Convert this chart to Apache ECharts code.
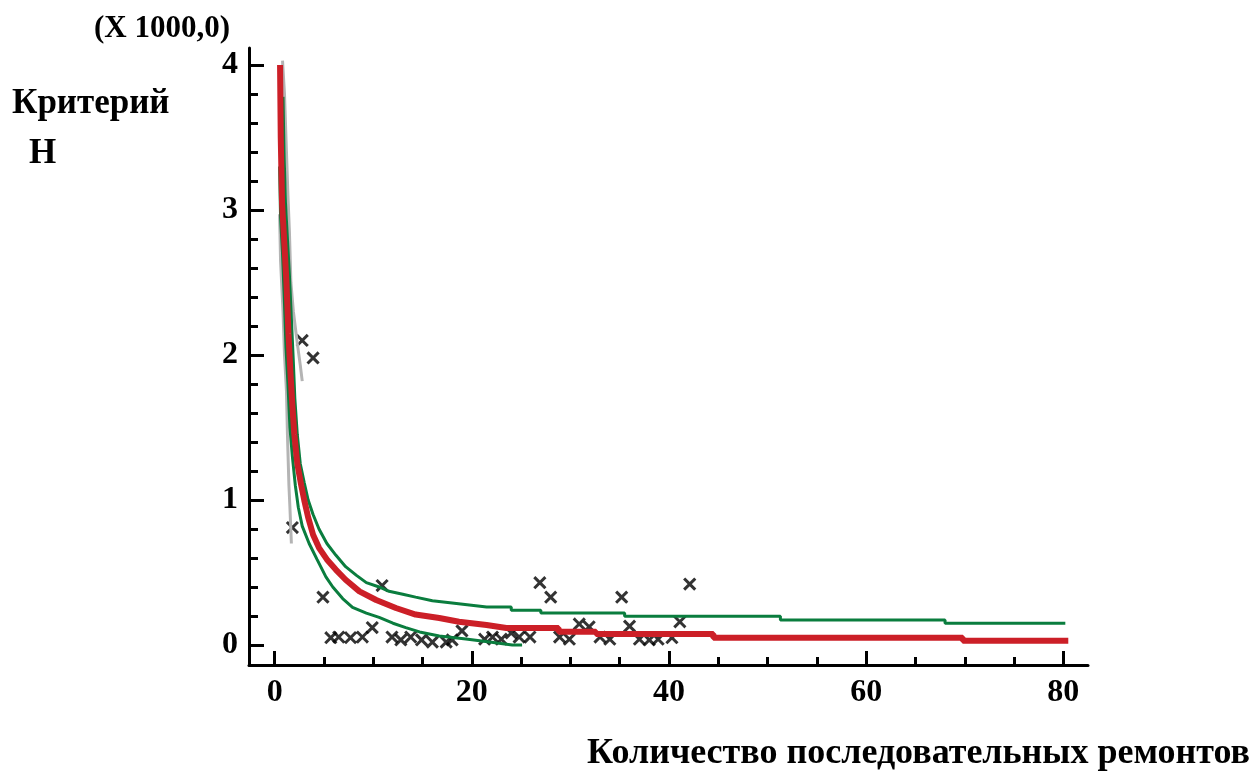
<!DOCTYPE html>
<html>
<head>
<meta charset="utf-8">
<script src="https://cdn.jsdelivr.net/npm/echarts@6/dist/echarts.min.js"></script>
<style>
  html, body { margin: 0; padding: 0; background: #fff; }
  #chart { width: 1251px; height: 778px; }
</style>
</head>
<body>
<div id="chart"></div>
<script>
  // значения (H в тысячах)
  const xMajor = [0, 20, 40, 60, 80];
  const xMinor = [5, 10, 15, 25, 30, 35, 45, 50, 55, 65, 70, 75];
  const yMajor = [0, 1, 2, 3, 4];
  const yMinor = [0.2, 0.4, 0.6, 0.8, 1.2, 1.4, 1.6, 1.8, 2.2, 2.4, 2.6, 2.8, 3.2, 3.4, 3.6, 3.8];

  // аппроксимация (красная)
  const fitLine = [
    [0.55, 4.0], [0.62, 3.5], [0.75, 3.05], [1.0, 2.75], [1.2, 2.5], [1.4, 2.15], [1.6, 1.88],
    [1.8, 1.65], [2.0, 1.45], [2.3, 1.25], [2.7, 1.1], [3.0, 1.0], [3.4, 0.88], [3.9, 0.76],
    [4.5, 0.67], [5.3, 0.59], [6.2, 0.52], [7.2, 0.45], [8.6, 0.37], [10.3, 0.31], [12.3, 0.255],
    [14.3, 0.21], [16.7, 0.186], [18.7, 0.16], [21.5, 0.138], [23.5, 0.117], [28.8, 0.117],
    [28.8, 0.092], [32.6, 0.092], [32.6, 0.076], [44.5, 0.076], [44.5, 0.05], [69.8, 0.05],
    [69.8, 0.03], [80.5, 0.03]
  ];
  // доверительные границы (зелёные)
  const upperBound = [
    [0.85, 3.78], [0.95, 3.4], [1.1, 3.05], [1.3, 2.8], [1.5, 2.55], [1.7, 2.25], [1.9, 1.95],
    [2.05, 1.7], [2.3, 1.45], [2.6, 1.25], [3.0, 1.12], [3.4, 1.0], [3.9, 0.9], [4.5, 0.8],
    [5.3, 0.7], [6.2, 0.62], [7.2, 0.54], [8.3, 0.48], [9.3, 0.43], [10.6, 0.4], [11.6, 0.37],
    [13, 0.35], [14.3, 0.33], [16, 0.305], [18, 0.29], [21.5, 0.262], [24, 0.262], [24, 0.239],
    [27, 0.239], [27, 0.221], [35.5, 0.221], [35.5, 0.198], [51.3, 0.198], [51.3, 0.172],
    [68, 0.172], [68, 0.15], [80.2, 0.15]
  ];
  const lowerBound = [
    [0.5, 3.3], [0.6, 2.95], [0.8, 2.7], [1.0, 2.35], [1.15, 2.05], [1.35, 1.8], [1.55, 1.5],
    [1.8, 1.3], [2.1, 1.1], [2.4, 0.95], [2.8, 0.82], [3.5, 0.7], [4.3, 0.59], [5.2, 0.47],
    [5.9, 0.4], [6.9, 0.32], [7.9, 0.26], [9.3, 0.22], [10.6, 0.19], [12, 0.15], [13.3, 0.12],
    [14.7, 0.09], [16.7, 0.062], [19.4, 0.041], [21.8, 0.02], [24.1, 0.0], [25.1, 0.0]
  ];
  // границы прогноза (серые)
  const grayUpper = [
    [0.8, 4.03], [1.0, 3.8], [1.2, 3.4], [1.35, 3.1], [1.5, 2.85], [1.65, 2.5], [1.9, 2.3],
    [2.3, 2.08], [2.6, 1.93], [2.8, 1.82]
  ];
  const grayLower = [
    [0.5, 2.97], [0.6, 2.65], [0.85, 2.3], [1.0, 2.0], [1.2, 1.75], [1.3, 1.45], [1.45, 1.1],
    [1.55, 0.95], [1.7, 0.7]
  ];
  // наблюдения
  const observed = [
    [2.8, 2.1], [3.9, 1.98], [1.8, 0.81], [4.9, 0.33], [10.9, 0.41], [26.9, 0.43], [28.0, 0.33],
    [35.2, 0.33], [42.1, 0.42], [41.1, 0.16], [36.0, 0.13], [30.9, 0.145], [31.9, 0.125],
    [9.9, 0.12], [19.0, 0.097], [24.0, 0.083],
    [5.7, 0.05], [6.5, 0.055], [7.7, 0.05], [8.9, 0.055], [11.9, 0.055], [12.8, 0.035],
    [13.8, 0.055], [14.9, 0.035], [16, 0.02], [17.4, 0.02], [18, 0.035], [21.3, 0.04],
    [22.1, 0.055], [23, 0.04], [24.8, 0.055], [25.9, 0.055], [28.9, 0.055], [29.9, 0.04],
    [33, 0.055], [34, 0.04], [37, 0.04], [38, 0.035], [38.9, 0.04], [40.3, 0.05]
  ];

  const serif = 'Liberation Serif';
  const X_MIN = -2.6, X_MAX = 82.5, Y_MIN = -0.138, Y_MAX = 4.117;

  const chart = echarts.init(document.getElementById('chart'));
  const option = {
    animation: false,
    backgroundColor: '#fff',
    grid: { left: 249, right: 163, top: 48, bottom: 113, outerBoundsMode: 'none' },
    xAxis: [
      {
        type: 'value', min: X_MIN, max: X_MAX, position: 'bottom',
        axisLine: { onZero: false, lineStyle: { color: '#000', width: 3 } },
        axisTick: { inside: true, length: 14, customValues: xMajor, lineStyle: { color: '#000', width: 3 } },
        axisLabel: { customValues: xMajor, margin: 12, color: '#000', fontFamily: serif, fontSize: 32, fontWeight: 'bold' },
        splitLine: { show: false }
      },
      {
        type: 'value', min: X_MIN, max: X_MAX, position: 'bottom', offset: 0,
        axisLine: { show: false, onZero: false },
        axisTick: { inside: true, length: 8, customValues: xMinor, lineStyle: { color: '#000', width: 3 } },
        axisLabel: { show: false },
        splitLine: { show: false }
      }
    ],
    yAxis: [
      {
        type: 'value', min: Y_MIN, max: Y_MAX, position: 'left',
        axisLine: { show: true, onZero: false, lineStyle: { color: '#000', width: 3 } },
        axisTick: { show: true, inside: true, length: 15, customValues: yMajor, lineStyle: { color: '#000', width: 3 } },
        axisLabel: { customValues: yMajor, margin: 11, color: '#000', fontFamily: serif, fontSize: 32, fontWeight: 'bold' },
        splitLine: { show: false }
      },
      {
        type: 'value', min: Y_MIN, max: Y_MAX, position: 'left', offset: 0,
        axisLine: { show: false, onZero: false },
        axisTick: { show: true, inside: true, length: 9, customValues: yMinor, lineStyle: { color: '#000', width: 3 } },
        axisLabel: { show: false },
        splitLine: { show: false }
      }
    ],
    graphic: [
      { type: 'text', left: 94, top: 13, style: { text: '(X 1000,0)', fill: '#000', font: 'bold 31px "Liberation Serif"' } },
      { type: 'text', left: 12, top: 86, style: { text: 'Критерий', fill: '#000', font: 'bold 35px "Liberation Serif"' } },
      { type: 'text', left: 29, top: 136, style: { text: 'H', fill: '#000', font: 'bold 35px "Liberation Serif"' } },
      { type: 'text', right: 1, top: 736, style: { text: 'Количество последовательных ремонтов', fill: '#000', font: 'bold 36px "Liberation Serif"' } }
    ],
    series: [
      {
        type: 'scatter', data: observed, z: 1,
        symbol: 'path://M0,0L10,10M10,0L0,10', symbolSize: 9,
        itemStyle: { color: 'none', borderColor: '#000', borderWidth: 3, borderCap: 'square' }
      },
      { type: 'line', data: grayUpper, showSymbol: false, z: 2, lineStyle: { color: '#b4b4b4', width: 3 } },
      { type: 'line', data: grayLower, showSymbol: false, z: 2, lineStyle: { color: '#b4b4b4', width: 3 } },
      { type: 'line', data: upperBound, showSymbol: false, z: 3, lineStyle: { color: '#0a7d3e', width: 3 } },
      { type: 'line', data: lowerBound, showSymbol: false, z: 3, lineStyle: { color: '#0a7d3e', width: 3 } },
      { type: 'line', data: fitLine, showSymbol: false, z: 4, lineStyle: { color: '#cc1f27', width: 6 } }
    ]
  };
  chart.setOption(option);
</script>
</body>
</html>
